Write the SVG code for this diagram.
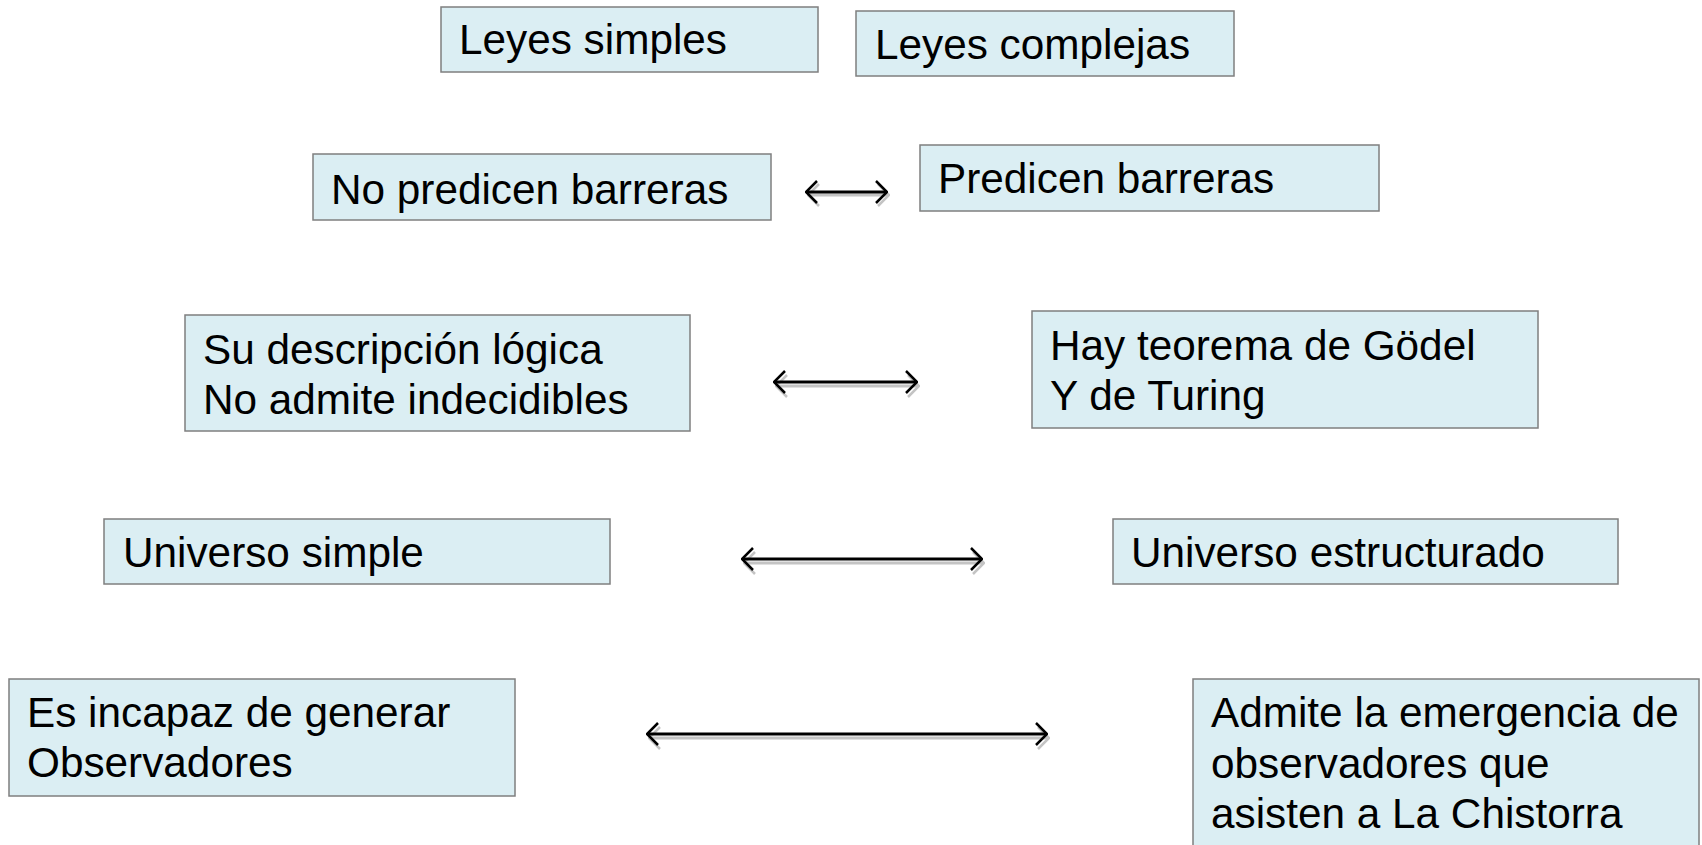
<svg xmlns="http://www.w3.org/2000/svg" width="1702" height="845" viewBox="0 0 1702 845">
<style>
.box{fill:#DBEEF3;stroke:#7F7F7F;stroke-width:1.5}
.t{font-family:"Liberation Sans",Arial,sans-serif;font-size:42.3px;fill:#000}
.ln{stroke:#000;stroke-width:3;fill:none}
.sh{stroke:#C4C4C4;stroke-width:3;fill:none}
</style>
<defs>
<marker id="ae" markerUnits="userSpaceOnUse" viewBox="0 0 14 26" refX="13" refY="13" markerWidth="14" markerHeight="26" orient="auto">
<polyline points="2,2 13,13 2,24" fill="none" stroke="#000" stroke-width="2.5"/>
</marker>
<marker id="as" markerUnits="userSpaceOnUse" viewBox="0 0 14 26" refX="1" refY="13" markerWidth="14" markerHeight="26" orient="auto">
<polyline points="12,2 1,13 12,24" fill="none" stroke="#000" stroke-width="2.5"/>
</marker>
<marker id="ge" markerUnits="userSpaceOnUse" viewBox="0 0 14 26" refX="13" refY="13" markerWidth="14" markerHeight="26" orient="auto">
<polyline points="2,2 13,13 2,24" fill="none" stroke="#C4C4C4" stroke-width="2.5"/>
</marker>
<marker id="gs" markerUnits="userSpaceOnUse" viewBox="0 0 14 26" refX="1" refY="13" markerWidth="14" markerHeight="26" orient="auto">
<polyline points="12,2 1,13 12,24" fill="none" stroke="#C4C4C4" stroke-width="2.5"/>
</marker>
</defs>
<g id="connectors">
<line class="sh" x1="808" y1="195" x2="889" y2="195" marker-start="url(#gs)" marker-end="url(#ge)"/>
<line class="ln" x1="806" y1="192" x2="887" y2="192" marker-start="url(#as)" marker-end="url(#ae)"/>
<line class="sh" x1="776" y1="386" x2="919" y2="386" marker-start="url(#gs)" marker-end="url(#ge)"/>
<line class="ln" x1="774" y1="382" x2="917" y2="382" marker-start="url(#as)" marker-end="url(#ae)"/>
<line class="sh" x1="744" y1="563" x2="984" y2="563" marker-start="url(#gs)" marker-end="url(#ge)"/>
<line class="ln" x1="742" y1="559" x2="982" y2="559" marker-start="url(#as)" marker-end="url(#ae)"/>
<line class="sh" x1="649" y1="738" x2="1049" y2="738" marker-start="url(#gs)" marker-end="url(#ge)"/>
<line class="ln" x1="647" y1="734" x2="1047" y2="734" marker-start="url(#as)" marker-end="url(#ae)"/>
</g>
<g id="leyes-simples">
<rect class="box" x="441" y="7" width="377" height="65"/>
<text class="t" x="459" y="54">Leyes simples</text>
</g>
<g id="leyes-complejas">
<rect class="box" x="856" y="11" width="378" height="65"/>
<text class="t" x="875" y="59">Leyes complejas</text>
</g>
<g id="no-predicen">
<rect class="box" x="313" y="154" width="458" height="66"/>
<text class="t" x="331" y="204">No predicen barreras</text>
</g>
<g id="predicen">
<rect class="box" x="920" y="145" width="459" height="66"/>
<text class="t" x="938" y="193">Predicen barreras</text>
</g>
<g id="descripcion">
<rect class="box" x="185" y="315" width="505" height="116"/>
<text class="t" x="203" y="364">Su descripción lógica</text>
<text class="t" x="203" y="414">No admite indecidibles</text>
</g>
<g id="godel">
<rect class="box" x="1032" y="311" width="506" height="117"/>
<text class="t" x="1050" y="360">Hay teorema de Gödel</text>
<text class="t" x="1050" y="410">Y de Turing</text>
</g>
<g id="universo-simple">
<rect class="box" x="104" y="519" width="506" height="65"/>
<text class="t" x="123" y="567">Universo simple</text>
</g>
<g id="universo-estructurado">
<rect class="box" x="1113" y="519" width="505" height="65"/>
<text class="t" x="1131" y="567">Universo estructurado</text>
</g>
<g id="incapaz">
<rect class="box" x="9" y="679" width="506" height="117"/>
<text class="t" x="27" y="727">Es incapaz de generar</text>
<text class="t" x="27" y="777">Observadores</text>
</g>
<g id="admite">
<rect class="box" x="1193" y="679" width="506" height="175"/>
<text class="t" x="1211" y="727">Admite la emergencia de</text>
<text class="t" x="1211" y="778">observadores que</text>
<text class="t" x="1211" y="828">asisten a La Chistorra</text>
</g>
</svg>
